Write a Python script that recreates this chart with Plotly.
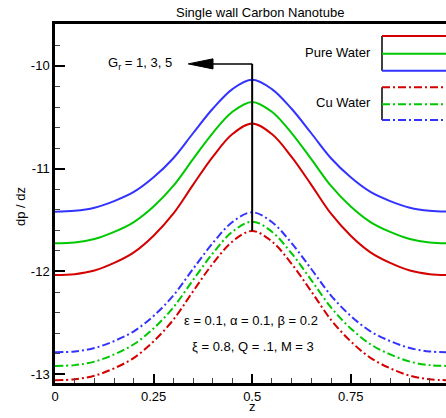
import plotly.graph_objects as go

z = [0.0, 0.05, 0.10, 0.15, 0.20, 0.25, 0.30, 0.35, 0.40, 0.45, 0.50,
     0.55, 0.60, 0.65, 0.70, 0.75, 0.80, 0.85, 0.90, 0.95, 1.0]

pure_gr1 = [-12.035, -12.026, -11.991, -11.917, -11.814, -11.652, -11.438, -11.157, -10.885, -10.663, -10.560,
            -10.663, -10.885, -11.157, -11.438, -11.652, -11.814, -11.917, -11.991, -12.026, -12.035]
pure_gr3 = [-11.725, -11.717, -11.684, -11.615, -11.519, -11.368, -11.168, -10.907, -10.653, -10.446, -10.350,
            -10.446, -10.653, -10.907, -11.168, -11.368, -11.519, -11.615, -11.684, -11.717, -11.725]
pure_gr5 = [-11.418, -11.410, -11.380, -11.315, -11.226, -11.084, -10.898, -10.655, -10.417, -10.225, -10.135,
            -10.225, -10.417, -10.655, -10.898, -11.084, -11.226, -11.315, -11.380, -11.410, -11.418]
cu_gr1 = [-13.058, -13.049, -13.014, -12.942, -12.840, -12.680, -12.470, -12.194, -11.925, -11.708, -11.606,
          -11.708, -11.925, -12.194, -12.470, -12.680, -12.840, -12.942, -13.014, -13.049, -13.058]
cu_gr3 = [-12.919, -12.911, -12.877, -12.807, -12.708, -12.554, -12.350, -12.084, -11.824, -11.613, -11.515,
          -11.613, -11.824, -12.084, -12.350, -12.554, -12.708, -12.807, -12.877, -12.911, -12.919]
cu_gr5 = [-12.786, -12.778, -12.745, -12.677, -12.582, -12.432, -12.234, -11.976, -11.724, -11.519, -11.424,
          -11.519, -11.724, -11.976, -12.234, -12.432, -12.582, -12.677, -12.745, -12.778, -12.786]

x_ticks = [0, 0.25, 0.5, 0.75]
x_tick_text = ["0", "0.25", "0.5", "0.75"]
y_ticks = [-13, -12, -11, -10]
y_tick_text = ["-13", "-12", "-11", "-10"]

RED = "#d40000"
GREEN = "#00c800"
BLUE = "#3333ff"
DASHDOT = "8px,3px,2px,3px"
FONT = "Liberation Sans, Arial, sans-serif"

fig = go.Figure()
series = [
    (pure_gr1, RED, "solid"), (pure_gr3, GREEN, "solid"), (pure_gr5, BLUE, "solid"),
    (cu_gr1, RED, DASHDOT), (cu_gr3, GREEN, DASHDOT), (cu_gr5, BLUE, DASHDOT),
]
for ys, col, dash in series:
    fig.add_trace(go.Scatter(x=z, y=ys, mode="lines",
                             line=dict(color=col, width=2, dash=dash, shape="spline", smoothing=1.0),
                             showlegend=False, hoverinfo="skip"))

# Gr arrow
arrow_y = -9.98
fig.add_shape(type="line", xref="x", yref="y", x0=0.5, x1=0.5, y0=arrow_y, y1=-11.603,
              line=dict(color="black", width=2))
fig.add_shape(type="line", xref="x", yref="y", x0=0.39, x1=0.5, y0=arrow_y, y1=arrow_y,
              line=dict(color="black", width=1.5))
fig.add_shape(type="path", xref="x", yref="y",
              path=f"M 0.338 {arrow_y} L 0.4007 {arrow_y + 0.049} L 0.4007 {arrow_y - 0.049} Z",
              fillcolor="black", line=dict(color="black", width=1))

ann_font = dict(family=FONT, size=13, color="black")
fig.add_annotation(x=0.2152, y=arrow_y, xref="x", yref="y", text="G<sub>r</sub> = 1, 3, 5",
                   showarrow=False, font=ann_font, xanchor="center", yanchor="middle")
fig.add_annotation(x=0.4965, y=-12.472, xref="x", yref="y",
                   text="ε = 0.1, α = 0.1, β = 0.2",
                   showarrow=False, font=ann_font, xanchor="center", yanchor="middle")
fig.add_annotation(x=0.501, y=-12.731, xref="x", yref="y",
                   text="ξ = 0.8, Q = .1, M = 3",
                   showarrow=False, font=ann_font, xanchor="center", yanchor="middle")

# Title and axis titles
fig.add_annotation(x=0.5235, y=1.0315, xref="paper", yref="paper", text="Single wall Carbon Nanotube",
                   showarrow=False, font=dict(family=FONT, size=13, color="black"),
                   xanchor="center", yanchor="middle")
fig.add_annotation(x=-0.0895, y=0.49, xref="paper", yref="paper", text="dp / dz", textangle=-90,
                   showarrow=False, font=dict(family=FONT, size=13, color="black"),
                   xanchor="center", yanchor="middle")
fig.add_annotation(x=0.504, y=-0.066, xref="paper", yref="paper", text="z",
                   showarrow=False, font=dict(family=FONT, size=13, color="black"),
                   xanchor="center", yanchor="middle")

# Custom legend
fig.add_annotation(x=0.8133, y=0.9212, xref="paper", yref="paper", text="Pure Water",
                   showarrow=False, font=ann_font, xanchor="right", yanchor="middle")
fig.add_annotation(x=0.8133, y=0.7819, xref="paper", yref="paper", text="Cu Water",
                   showarrow=False, font=ann_font, xanchor="right", yanchor="middle")
lx0, lx1 = 0.8363, 1.05
for (ya, yb, yc), dash in [((0.9666, 0.9173, 0.8699), "solid"), ((0.8237, 0.7763, 0.7326), DASHDOT)]:
    fig.add_shape(type="line", xref="paper", yref="paper", x0=lx0, x1=lx0, y0=ya, y1=yc,
                  line=dict(color="black", width=1.5))
    for yy, col in [(ya, RED), (yb, GREEN), (yc, BLUE)]:
        fig.add_shape(type="line", xref="paper", yref="paper", x0=lx0, x1=lx1, y0=yy, y1=yy,
                      line=dict(color=col, width=2, dash=dash))

fig.update_layout(
    width=446, height=418,
    margin=dict(l=55, r=0, t=24, b=35),
    plot_bgcolor="white", paper_bgcolor="white",
    font=dict(family=FONT, size=13, color="black"),
)
fig.update_xaxes(range=[0, 0.9916], tickvals=x_ticks, ticktext=x_tick_text,
                 showgrid=False, zeroline=False, showline=True, linecolor="black", linewidth=2.5,
                 mirror=True, ticks="inside", ticklen=9, tickwidth=2, tickcolor="black",
                 minor=dict(dtick=0.05, ticks="inside", ticklen=5, tickwidth=1, tickcolor="#444", showgrid=False),
                 tickfont=dict(family=FONT, size=13, color="black"))
fig.update_yaxes(range=[-13.085, -9.592], tickvals=y_ticks, ticktext=y_tick_text,
                 showgrid=False, zeroline=False, showline=True, linecolor="black", linewidth=2.5,
                 mirror=False, ticks="inside", ticklen=10, tickwidth=2, tickcolor="black",
                 minor=dict(dtick=0.2, tick0=-10, ticks="inside", ticklen=5, tickwidth=1, tickcolor="#444", showgrid=False),
                 tickfont=dict(family=FONT, size=13, color="black"))

fig.write_html("out.html")
